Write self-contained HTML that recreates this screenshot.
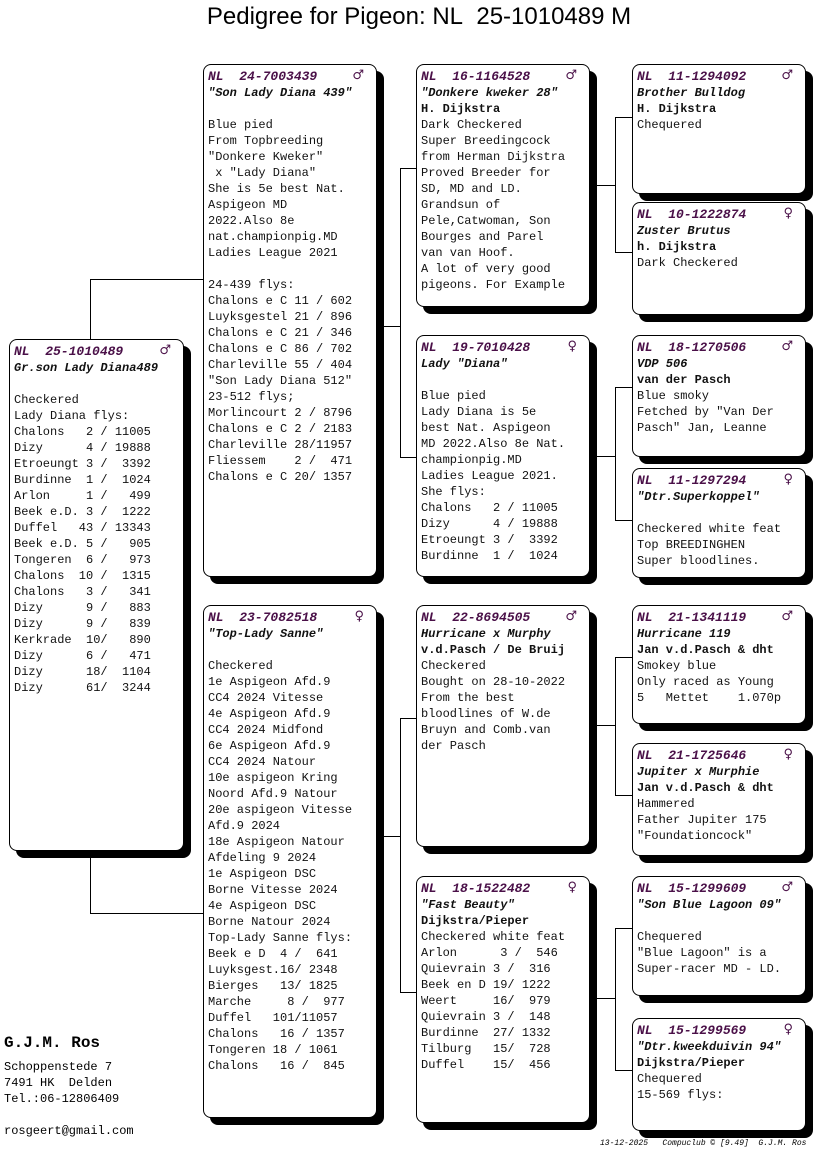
<!DOCTYPE html>
<html><head><meta charset="utf-8"><style>
body{margin:0;width:816px;height:1172px;background:#fff;position:relative;overflow:hidden;font-family:"Liberation Mono",monospace;}
.b{position:absolute;background:#fff;border:1px solid #000;border-radius:8px;box-shadow:7px 7px 0 #000;box-sizing:border-box;}
.t{position:absolute;left:4px;top:4px;font-size:12px;line-height:16px;white-space:pre;color:#111;font-family:"Liberation Mono",monospace;}
.h{color:#4a1048;font-weight:bold;font-style:italic;font-size:13px;}
.n{font-weight:bold;font-style:italic;}
.k{font-weight:bold;}
.s{position:absolute;right:12px;top:3px;font-size:13px;font-weight:bold;color:#4a1048;font-family:"DejaVu Sans",sans-serif;}
.l{position:absolute;background:#000;}
</style></head><body>
<div style="position:absolute;left:0;width:838px;top:3px;text-align:center;font-family:'Liberation Sans',sans-serif;font-size:24px;">Pedigree for Pigeon: NL&nbsp; 25-1010489 M</div>

<div class="l" style="left:90px;top:279px;width:1px;height:60px"></div>
<div class="l" style="left:90px;top:279px;width:113px;height:1px"></div>
<div class="l" style="left:90px;top:857px;width:1px;height:56px"></div>
<div class="l" style="left:90px;top:913px;width:113px;height:1px"></div>

<div class="l" style="left:383px;top:326px;width:18px;height:1px"></div>
<div class="l" style="left:400px;top:168px;width:1px;height:290px"></div>
<div class="l" style="left:400px;top:168px;width:16px;height:1px"></div>
<div class="l" style="left:400px;top:457px;width:16px;height:1px"></div>
<div class="l" style="left:383px;top:836px;width:18px;height:1px"></div>
<div class="l" style="left:400px;top:718px;width:1px;height:275px"></div>
<div class="l" style="left:400px;top:718px;width:16px;height:1px"></div>
<div class="l" style="left:400px;top:992px;width:16px;height:1px"></div>

<div class="l" style="left:596px;top:185px;width:20px;height:1px"></div>
<div class="l" style="left:615px;top:117px;width:1px;height:136px"></div>
<div class="l" style="left:615px;top:117px;width:18px;height:1px"></div>
<div class="l" style="left:615px;top:252px;width:18px;height:1px"></div>
<div class="l" style="left:596px;top:456px;width:20px;height:1px"></div>
<div class="l" style="left:615px;top:387px;width:1px;height:134px"></div>
<div class="l" style="left:615px;top:387px;width:18px;height:1px"></div>
<div class="l" style="left:615px;top:520px;width:18px;height:1px"></div>
<div class="l" style="left:596px;top:725px;width:20px;height:1px"></div>
<div class="l" style="left:615px;top:657px;width:1px;height:139px"></div>
<div class="l" style="left:615px;top:657px;width:18px;height:1px"></div>
<div class="l" style="left:615px;top:795px;width:18px;height:1px"></div>
<div class="l" style="left:596px;top:998px;width:20px;height:1px"></div>
<div class="l" style="left:615px;top:928px;width:1px;height:143px"></div>
<div class="l" style="left:615px;top:928px;width:18px;height:1px"></div>
<div class="l" style="left:615px;top:1070px;width:18px;height:1px"></div>

<div class="b" style="left:9px;top:339px;width:175px;height:512px"><span class="s">♂</span><div class="t"><span class="h">NL  25-1010489</span>
<span class="n">Gr.son Lady Diana489</span>

Checkered
Lady Diana flys:
Chalons   2 / 11005
Dizy      4 / 19888
Etroeungt 3 /  3392
Burdinne  1 /  1024
Arlon     1 /   499
Beek e.D. 3 /  1222
Duffel   43 / 13343
Beek e.D. 5 /   905
Tongeren  6 /   973
Chalons  10 /  1315
Chalons   3 /   341
Dizy      9 /   883
Dizy      9 /   839
Kerkrade  10/   890
Dizy      6 /   471
Dizy      18/  1104
Dizy      61/  3244</div></div>

<div class="b" style="left:203px;top:64px;width:174px;height:513px"><span class="s">♂</span><div class="t"><span class="h">NL  24-7003439</span>
<span class="n">"Son Lady Diana 439"</span>

Blue pied
From Topbreeding
"Donkere Kweker"
 x "Lady Diana"
She is 5e best Nat.
Aspigeon MD
2022.Also 8e
nat.championpig.MD
Ladies League 2021

24-439 flys:
Chalons e C 11 / 602
Luyksgestel 21 / 896
Chalons e C 21 / 346
Chalons e C 86 / 702
Charleville 55 / 404
"Son Lady Diana 512"
23-512 flys;
Morlincourt 2 / 8796
Chalons e C 2 / 2183
Charleville 28/11957
Fliessem    2 /  471
Chalons e C 20/ 1357</div></div>

<div class="b" style="left:203px;top:605px;width:174px;height:513px"><span class="s">♀</span><div class="t"><span class="h">NL  23-7082518</span>
<span class="n">"Top-Lady Sanne"</span>

Checkered
1e Aspigeon Afd.9
CC4 2024 Vitesse
4e Aspigeon Afd.9
CC4 2024 Midfond
6e Aspigeon Afd.9
CC4 2024 Natour
10e aspigeon Kring
Noord Afd.9 Natour
20e aspigeon Vitesse
Afd.9 2024
18e Aspigeon Natour
Afdeling 9 2024
1e Aspigeon DSC
Borne Vitesse 2024
4e Aspigeon DSC
Borne Natour 2024
Top-Lady Sanne flys:
Beek e D  4 /  641
Luyksgest.16/ 2348
Bierges   13/ 1825
Marche     8 /  977
Duffel   101/11057
Chalons   16 / 1357
Tongeren 18 / 1061
Chalons   16 /  845</div></div>

<div class="b" style="left:416px;top:64px;width:174px;height:243px"><span class="s">♂</span><div class="t"><span class="h">NL  16-1164528</span>
<span class="n">"Donkere kweker 28"</span>
<span class="k">H. Dijkstra</span>
Dark Checkered
Super Breedingcock
from Herman Dijkstra
Proved Breeder for
SD, MD and LD.
Grandsun of
Pele,Catwoman, Son
Bourges and Parel
van van Hoof.
A lot of very good
pigeons. For Example</div></div>

<div class="b" style="left:416px;top:335px;width:174px;height:242px"><span class="s">♀</span><div class="t"><span class="h">NL  19-7010428</span>
<span class="n">Lady "Diana"</span>

Blue pied
Lady Diana is 5e
best Nat. Aspigeon
MD 2022.Also 8e Nat.
championpig.MD
Ladies League 2021.
She flys:
Chalons   2 / 11005
Dizy      4 / 19888
Etroeungt 3 /  3392
Burdinne  1 /  1024</div></div>

<div class="b" style="left:416px;top:605px;width:174px;height:242px"><span class="s">♂</span><div class="t"><span class="h">NL  22-8694505</span>
<span class="n">Hurricane x Murphy</span>
<span class="k">v.d.Pasch / De Bruij</span>
Checkered
Bought on 28-10-2022
From the best
bloodlines of W.de
Bruyn and Comb.van
der Pasch</div></div>

<div class="b" style="left:416px;top:876px;width:174px;height:247px"><span class="s">♀</span><div class="t"><span class="h">NL  18-1522482</span>
<span class="n">"Fast Beauty"</span>
<span class="k">Dijkstra/Pieper</span>
Checkered white feat
Arlon      3 /  546
Quievrain 3 /  316
Beek en D 19/ 1222
Weert     16/  979
Quievrain 3 /  148
Burdinne  27/ 1332
Tilburg   15/  728
Duffel    15/  456</div></div>

<div class="b" style="left:632px;top:64px;width:174px;height:130px"><span class="s">♂</span><div class="t"><span class="h">NL  11-1294092</span>
<span class="n">Brother Bulldog</span>
<span class="k">H. Dijkstra</span>
Chequered</div></div>
<div class="b" style="left:632px;top:202px;width:174px;height:113px"><span class="s">♀</span><div class="t"><span class="h">NL  10-1222874</span>
<span class="n">Zuster Brutus</span>
<span class="k">h. Dijkstra</span>
Dark Checkered</div></div>
<div class="b" style="left:632px;top:335px;width:174px;height:122px"><span class="s">♂</span><div class="t"><span class="h">NL  18-1270506</span>
<span class="n">VDP 506</span>
<span class="k">van der Pasch</span>
Blue smoky
Fetched by "Van Der
Pasch" Jan, Leanne</div></div>
<div class="b" style="left:632px;top:468px;width:174px;height:110px"><span class="s">♀</span><div class="t"><span class="h">NL  11-1297294</span>
<span class="n">"Dtr.Superkoppel"</span>

Checkered white feat
Top BREEDINGHEN
Super bloodlines.</div></div>
<div class="b" style="left:632px;top:605px;width:174px;height:119px"><span class="s">♂</span><div class="t"><span class="h">NL  21-1341119</span>
<span class="n">Hurricane 119</span>
<span class="k">Jan v.d.Pasch &amp; dht</span>
Smokey blue
Only raced as Young
5   Mettet    1.070p</div></div>
<div class="b" style="left:632px;top:743px;width:174px;height:113px"><span class="s">♀</span><div class="t"><span class="h">NL  21-1725646</span>
<span class="n">Jupiter x Murphie</span>
<span class="k">Jan v.d.Pasch &amp; dht</span>
Hammered
Father Jupiter 175
"Foundationcock"</div></div>
<div class="b" style="left:632px;top:876px;width:174px;height:120px"><span class="s">♂</span><div class="t"><span class="h">NL  15-1299609</span>
<span class="n">"Son Blue Lagoon 09"</span>

Chequered
"Blue Lagoon" is a
Super-racer MD - LD.</div></div>
<div class="b" style="left:632px;top:1018px;width:174px;height:113px"><span class="s">♀</span><div class="t"><span class="h">NL  15-1299569</span>
<span class="n">"Dtr.kweekduivin 94"</span>
<span class="k">Dijkstra/Pieper</span>
Chequered
15-569 flys:</div></div>

<div style="position:absolute;left:4px;top:1034px;font-size:16px;font-weight:bold;">G.J.M. Ros</div>
<div style="position:absolute;left:4px;top:1059px;font-size:12px;line-height:16px;white-space:pre;">Schoppenstede 7
7491 HK  Delden
Tel.:06-12806409</div>
<div style="position:absolute;left:4px;top:1124px;font-size:12px;">rosgeert@gmail.com</div>
<div style="position:absolute;left:600px;top:1139px;font-size:8px;font-style:italic;white-space:pre;">13-12-2025   Compuclub © [9.49]  G.J.M. Ros</div>
</body></html>
